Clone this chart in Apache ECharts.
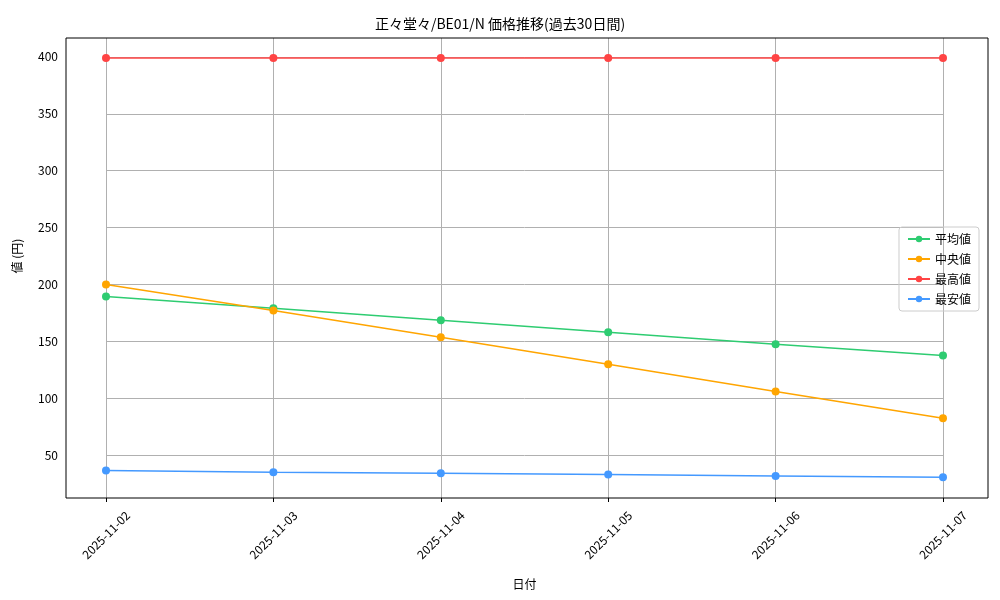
<!DOCTYPE html>
<html>
<head>
<meta charset="utf-8">
<script src="https://cdn.jsdelivr.net/npm/echarts@6/dist/echarts.min.js"></script>
<style>html,body{margin:0;padding:0;background:#fff}#chart{width:1000px;height:600px}</style>
</head>
<body>
<div id="chart"></div>
<script>
var dates = ['2025-11-02', '2025-11-03', '2025-11-04', '2025-11-05', '2025-11-06', '2025-11-07'];
var avgVals = [189.5, 179, 168.5, 158, 147.5, 137.5];
var medVals = [200, 177, 153.5, 129.8, 106, 82.3];
var maxVals = [399, 399, 399, 399, 399, 399];
var minVals = [36.5, 35, 34, 33, 31.7, 30.5];

var font = '"Noto Sans CJK JP", "DejaVu Sans Mono", monospace';
var chart = echarts.init(document.getElementById('chart'));

function line(name, data, color) {
  return {
    name: name, type: 'line', data: data, xAxisIndex: 0, yAxisIndex: 0,
    symbol: 'circle', symbolSize: 8,
    itemStyle: { color: color }, lineStyle: { color: color, width: 1.5 }
  };
}

chart.setOption({
  animation: false,
  textStyle: { fontFamily: font },
  title: {
    text: '正々堂々/BE01/N 価格推移(過去30日間)', left: 'center', top: 12,
    textStyle: { fontSize: 14, fontWeight: 'normal', color: '#000', fontFamily: font }
  },
  legend: {
    orient: 'vertical', right: 21, top: 227, itemGap: 8, itemWidth: 22, itemHeight: 8,
    padding: [6, 8], borderColor: '#ccc', borderWidth: 1, borderRadius: 3,
    textStyle: { fontSize: 12, color: '#000', fontFamily: font },
    data: ['平均値', '中央値', '最高値', '最安値']
  },
  grid: [
    { left: 106, right: 57, top: -1, bottom: 88 },
    { left: 106, right: 57, top: 38, bottom: 102 }
  ],
  xAxis: [
    { type: 'category', gridIndex: 0, data: dates, boundaryGap: false, show: false },
    {
      type: 'category', gridIndex: 1, data: dates, boundaryGap: false,
      axisLine: { show: false }, axisTick: { show: true, length: 4, lineStyle: { color: '#000' } },
      axisLabel: { rotate: 45, align: 'center', verticalAlign: 'middle', fontSize: 12, color: '#000', margin: 37 },
      splitLine: { show: true, lineStyle: { color: '#b0b0b0', width: 1 } },
      name: '日付', nameLocation: 'middle', nameGap: 80,
      nameTextStyle: { fontSize: 12, color: '#000' }
    }
  ],
  yAxis: [
    {
      type: 'value', gridIndex: 0, min: 0, max: 450, interval: 50,
      axisLine: { show: false }, axisTick: { show: false },
      axisLabel: { showMinLabel: false, showMaxLabel: false, margin: 48, fontSize: 12, color: '#000' },
      splitLine: { show: true, showMinLine: false, showMaxLine: false, lineStyle: { color: '#b0b0b0', width: 1 } },
      name: '値 (円)', nameLocation: 'middle', nameGap: 83, nameRotate: 90,
      nameTextStyle: { fontSize: 12, color: '#000' }
    },
    { type: 'value', gridIndex: 1, show: false }
  ],
  graphic: [{
    type: 'rect', shape: { x: 66, y: 38, width: 922, height: 460 }, z: 100, silent: true,
    style: { fill: 'none', stroke: '#000', lineWidth: 1 }
  }],
  series: [
    line('平均値', avgVals, '#2ecc71'),
    line('中央値', medVals, '#ffa500'),
    line('最高値', maxVals, '#ff4444'),
    line('最安値', minVals, '#4499ff')
  ]
});
</script>
</body>
</html>
